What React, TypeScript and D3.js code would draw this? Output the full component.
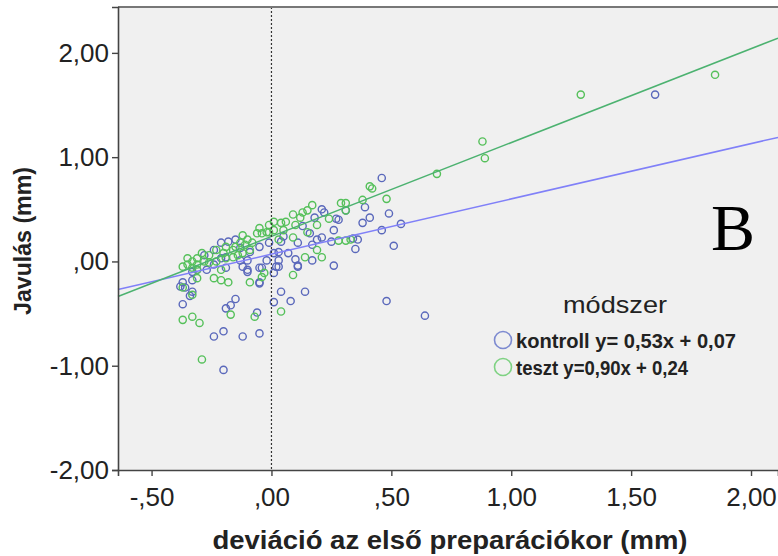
import React, { useEffect, useRef } from 'react';
import * as d3 from 'd3';

// kontroll group (blue), [deviáció, javulás]
const kontrollPoints: [number, number][] = [
  [1.60, 1.60], [0.46, 0.80], [0.54, 0.36], [0.64, -0.52], [0.48, -0.38], [0.26, -0.04],
  [0.35, 0.12], [0.14, -0.29], [0.04, -0.29], [0.08, -0.38], [0.01, -0.39], [0.17, 0.01],
  [0.11, -0.04], [0.10, 0.02], [0.03, 0.01], [0.01, -0.11], [0.03, -0.05], [0.51, 0.15],
  [0.39, 0.52], [0.49, 0.46], [0.41, 0.42], [0.38, 0.37], [0.46, 0.30], [0.27, 0.41],
  [0.26, 0.30], [0.21, 0.50], [0.22, 0.47], [0.18, 0.42], [0.13, 0.34], [0.16, 0.27],
  [0.05, 0.24], [0.19, 0.21], [0.21, 0.23], [0.25, 0.19], [0.34, 0.22], [0.36, 0.21],
  [0.17, 0.16], [0.11, 0.18], [0.04, 0.19], [0.03, 0.09], [0.07, 0.08], [-0.21, 0.18],
  [-0.18, 0.19], [-0.15, 0.21], [-0.13, 0.13], [-0.19, 0.04], [-0.21, 0.03], [-0.24, -0.03],
  [-0.27, -0.08], [-0.31, -0.08], [-0.33, -0.10], [-0.12, -0.05], [-0.10, -0.08], [-0.10, 0.01],
  [-0.13, 0.01], [-0.05, -0.06], [-0.02, 0.01], [0.01, 0.08], [-0.05, 0.14], [-0.01, 0.18],
  [0.02, -0.05], [-0.33, -0.18], [-0.37, -0.20], [-0.05, -0.20], [-0.36, -0.25], [-0.38, -0.24],
  [-0.33, -0.29], [-0.34, -0.33], [-0.37, -0.41], [-0.15, -0.36], [-0.17, -0.42], [-0.19, -0.45],
  [-0.06, -0.49], [-0.20, -0.67], [-0.24, -0.72], [-0.12, -0.72], [-0.05, -0.69], [-0.20, -1.04],
  [0.31, 0.49], [0.28, 0.40], [0.11, -0.05], [-0.19, -0.06], [-0.10, -0.10], [-0.04, -0.06],
  [-0.05, -0.21], [-0.24, 0.11], [-0.28, 0.06], [-0.09, 0.09]
];

// teszt group (green)
const tesztPoints: [number, number][] = [
  [1.29, 1.60], [1.85, 1.79], [0.88, 1.15], [0.89, 0.99], [0.69, 0.84], [0.48, 0.60],
  [0.41, 0.72], [0.42, 0.70], [0.38, 0.59], [0.31, 0.56], [0.29, 0.56], [0.31, 0.49],
  [0.17, 0.54], [0.15, 0.49], [0.13, 0.47], [0.24, 0.41], [0.09, 0.45], [0.12, 0.42],
  [0.19, 0.35], [0.06, 0.38], [0.04, 0.37], [0.01, 0.38], [-0.01, 0.35], [0.01, 0.30],
  [0.10, 0.35], [0.15, 0.28], [0.05, 0.30], [0.09, 0.23], [0.03, 0.21], [-0.02, 0.28],
  [0.28, 0.20], [0.31, 0.20], [0.33, 0.21], [0.19, 0.11], [0.14, 0.04], [0.21, 0.04],
  [0.09, -0.13], [0.04, -0.48], [-0.05, 0.32], [-0.04, 0.27], [-0.01, 0.28], [-0.06, 0.27],
  [-0.12, 0.25], [-0.13, 0.18], [-0.10, 0.21], [-0.15, 0.14], [-0.16, 0.11], [-0.19, 0.14],
  [-0.20, 0.08], [-0.23, 0.11], [-0.26, 0.06], [-0.29, 0.08], [-0.28, 0.00], [-0.31, 0.03],
  [-0.33, 0.00], [-0.35, 0.03], [-0.35, -0.03], [-0.37, -0.05], [-0.33, -0.06], [-0.31, -0.03],
  [-0.26, -0.01], [-0.23, 0.00], [-0.19, 0.03], [-0.16, 0.04], [-0.14, 0.06], [-0.12, 0.08],
  [-0.11, 0.16], [-0.08, 0.18], [-0.09, 0.11], [-0.21, -0.08], [-0.24, -0.16], [-0.18, -0.20],
  [-0.09, -0.20], [-0.03, -0.11], [-0.37, -0.25], [-0.33, -0.32], [-0.37, -0.56], [-0.33, -0.53],
  [-0.30, -0.59], [-0.17, -0.51], [-0.07, -0.53], [-0.21, -0.18], [-0.29, -0.94], [-0.04, -0.15],
  [-0.31, -0.16], [-0.31, -0.08]
];

const kontrollFit = [0.53, 0.07]; // slope, intercept
const tesztFit = [0.90, 0.24];

const xTicks = [-0.5, 0, 0.5, 1, 1.5, 2];
const yTicks = [-2, -1, 0, 1, 2];
const legendLabels = ['kontroll y= 0,53x + 0,07', 'teszt y=0,90x + 0,24'];

const W = 778, H = 556;

// SPSS hungarian style: ,50  -,50  1,00
const fmt = (v: number) => v.toFixed(2).replace(/^(-?)0\./, '$1,').replace('.', ',');

export default function App() {
  const ref = useRef<SVGSVGElement>(null);

  useEffect(() => {
    const svg = d3.select(ref.current);
    svg.selectAll('*').remove();

    const left = 118, top = 7, bottom = 470, right = 778;
    const x = d3.scaleLinear().domain([-0.64, 2.1125]).range([left, right]);
    const y = d3.scaleLinear().domain([-2, 2.44]).range([bottom, top]);

    svg.append('rect').attr('width', W).attr('height', H).attr('fill', '#fff');
    svg.append('rect')
      .attr('x', left).attr('y', top)
      .attr('width', right - left + 20).attr('height', bottom - top)
      .attr('fill', '#f0f0f0');

    // points
    const g = svg.append('g');
    g.selectAll('.k').data(kontrollPoints).join('circle')
      .attr('cx', d => x(d[0])).attr('cy', d => y(d[1])).attr('r', 3.6)
      .attr('fill', 'none').attr('stroke', '#5a68bb').attr('stroke-width', 1.4);
    g.selectAll('.t').data(tesztPoints).join('circle')
      .attr('cx', d => x(d[0])).attr('cy', d => y(d[1])).attr('r', 3.6)
      .attr('fill', 'none').attr('stroke', '#55c05a').attr('stroke-width', 1.4);

    // fit lines
    const xd = x.domain();
    const line = d3.line<number>().x(v => x(v));
    [[kontrollFit, '#8080f8'], [tesztFit, '#4cb270']].forEach(([fit, col]: any) => {
      svg.append('path')
        .attr('d', line.y(v => y(fit[0] * v + fit[1]))([xd[0], xd[1]]))
        .attr('stroke', col).attr('stroke-width', 1.5).attr('fill', 'none');
    });

    // reference line at x = 0
    svg.append('line')
      .attr('x1', x(0)).attr('x2', x(0)).attr('y1', top).attr('y2', bottom)
      .attr('stroke', '#333').attr('stroke-width', 1.2).attr('stroke-dasharray', '2,2');

    // frame
    svg.append('line').attr('x1', left).attr('x2', W).attr('y1', top).attr('y2', top)
      .attr('stroke', '#777').attr('stroke-width', 2);

    const font = "'Liberation Sans', Arial, sans-serif";
    const yAxis = svg.append('g').attr('transform', `translate(${left},0)`)
      .call(d3.axisLeft(y).tickValues(yTicks).tickFormat(fmt as any).tickSize(6).tickPadding(3));
    const xAxis = svg.append('g').attr('transform', `translate(0,${bottom})`)
      .call(d3.axisBottom(x).tickValues(xTicks).tickFormat(fmt as any).tickSize(6).tickPadding(12));
    [yAxis, xAxis].forEach(a => {
      a.select('.domain').attr('stroke', '#444').attr('stroke-width', 1.6);
      a.selectAll('.tick line').attr('stroke', '#444').attr('stroke-width', 1.4);
      a.selectAll('.tick text').attr('fill', '#222').style('font-family', font).style('font-size', '26px');
    });

    // axis titles
    svg.append('text')
      .attr('x', 450).attr('y', 549).attr('text-anchor', 'middle')
      .attr('textLength', 475).attr('lengthAdjust', 'spacingAndGlyphs')
      .style('font-family', font).style('font-size', '25px').style('font-weight', 'bold').attr('fill', '#222')
      .text('deviáció az első preparációkor (mm)');
    svg.append('text')
      .attr('transform', 'translate(31,241) rotate(-90)').attr('text-anchor', 'middle')
      .attr('textLength', 148).attr('lengthAdjust', 'spacingAndGlyphs')
      .style('font-family', font).style('font-size', '24px').style('font-weight', 'bold').attr('fill', '#222')
      .text('Javulás (mm)');

    // legend
    svg.append('text')
      .attr('x', 615).attr('y', 313).attr('text-anchor', 'middle')
      .attr('textLength', 104).attr('lengthAdjust', 'spacingAndGlyphs')
      .style('font-family', font).style('font-size', '24px').attr('fill', '#222')
      .text('módszer');
    const lcol = ['#7d8ad0', '#7fd283'];
    const lw = [220, 172];
    legendLabels.forEach((lab, i) => {
      const cy = 340 + i * 27;
      svg.append('circle').attr('cx', 503).attr('cy', cy).attr('r', 8.5)
        .attr('fill', 'none').attr('stroke', lcol[i]).attr('stroke-width', 1.6);
      svg.append('text').attr('x', 516).attr('y', cy + 8)
        .attr('textLength', lw[i]).attr('lengthAdjust', 'spacingAndGlyphs')
        .style('font-family', font).style('font-size', '20px').style('font-weight', 'bold').attr('fill', '#222')
        .text(lab);
    });

    svg.append('text').attr('x', 711).attr('y', 250)
      .style('font-family', "'Liberation Serif', 'DejaVu Serif', serif").style('font-size', '66px').attr('fill', '#000')
      .text('B');
  }, []);

  return <svg ref={ref} width={W} height={H} style={{ position: 'absolute', left: 0, top: 0 }} />;
}
